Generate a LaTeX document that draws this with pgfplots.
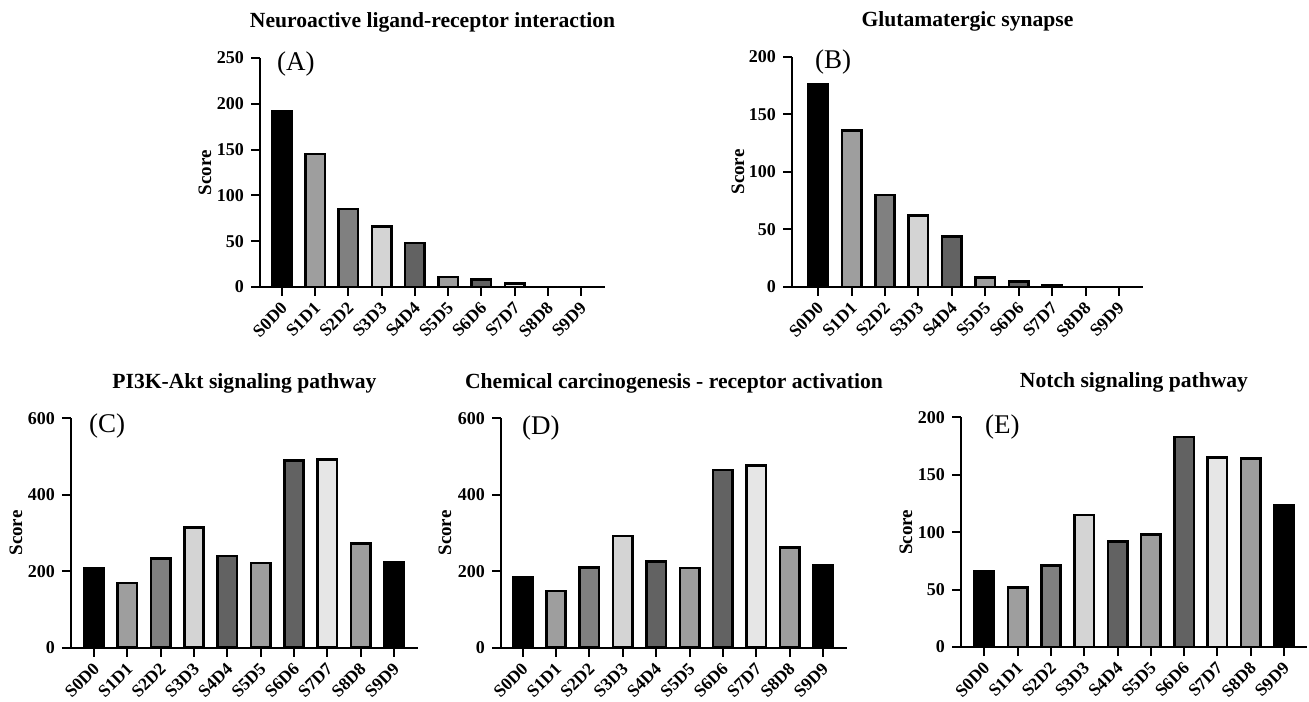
\documentclass[border=0pt]{standalone}
\usepackage{fontspec}
\setmainfont{Liberation Serif}
\usepackage{pgfplots}
\pgfplotsset{compat=1.18}
\definecolor{c0}{HTML}{000000}
\definecolor{c1}{HTML}{9E9E9E}
\definecolor{c2}{HTML}{808080}
\definecolor{c3}{HTML}{D4D4D4}
\definecolor{c4}{HTML}{626262}
\definecolor{c5}{HTML}{9E9E9E}
\definecolor{c6}{HTML}{626262}
\definecolor{c7}{HTML}{E6E6E6}
\definecolor{c8}{HTML}{9E9E9E}
\definecolor{c9}{HTML}{000000}
\pgfplotsset{
  panel/.style={
    scale only axis, anchor=south west,
    axis x line=bottom, axis y line=left,
    axis line style={-, line width=1pt, black},
    tick style={line width=1pt, black},
    tick align=outside, major tick length=4.5pt,
    enlargelimits=false, ymin=0,
    xtick={0,...,9},
    xticklabels={S0D0,S1D1,S2D2,S3D3,S4D4,S5D5,S6D6,S7D7,S8D8,S9D9},
    xticklabel style={xshift=-1pt, yshift=-1pt, rotate=45, anchor=north east, font=\fontsize{8.8}{8.8}\selectfont\bfseries, inner sep=1pt},
    yticklabel style={font=\fontsize{9}{9}\selectfont\bfseries},
    /pgf/number format/assume math mode=true,
    ylabel=Score,
    title style={font=\fontsize{10.8}{10.8}\selectfont\bfseries, at={(rel axis cs:0.5,1)}, anchor=base, yshift=9pt},
    clip=false,
  },
  ylabshift/.style={every axis y label/.style={at={([xshift=-#1]rel axis cs:0,0.5)}, rotate=90, anchor=center, font=\fontsize{9.5}{9.5}\selectfont\bfseries}},
}
\newcommand\B[2]{\addplot[ybar, bar shift=0pt, bar width=9.7pt, draw=black, line width=1.3pt, fill=c#1] coordinates {(#1,#2)};}
\newcommand\PL[3]{\node[anchor=west, font=\fontsize{13.5}{13.5}\selectfont] at ([xshift=#2,yshift=#3]rel axis cs:0,1) {#1};}
\begin{document}
\begin{tikzpicture}
\useasboundingbox (0pt,0pt) rectangle (654.5pt,350.5pt);
% (A)
\begin{axis}[panel, at={(130pt,207pt)}, width=172.5pt, height=114.5pt,
  xmin=-0.66, xmax=9.72, ymax=250, ytick={0,50,100,150,200,250},
  ylabshift=27.5pt, title={Neuroactive ligand-receptor interaction}]
\B0{192}\B1{145}\B2{85}\B3{66}\B4{48}\B5{11}\B6{8}\B7{4}\B8{0}\B9{0}
\PL{(A)}{5pt}{-3pt}
\end{axis}
% (B)
\begin{axis}[panel, at={(396pt,207pt)}, width=175.5pt, height=115pt,
  xmin=-0.78, xmax=9.72, ymax=200, ytick={0,50,100,150,200},
  ylabshift=27pt, title={Glutamatergic synapse}]
\B0{176}\B1{136}\B2{80}\B3{62}\B4{44}\B5{8}\B6{5}\B7{1.5}\B8{0}\B9{0}
\PL{(B)}{8pt}{-2.5pt}
\end{axis}
% (C)
\begin{axis}[panel, at={(35.5pt,26.65pt)}, width=173.5pt, height=114.7pt,
  xmin=-0.69, xmax=9.72, ymax=600, ytick={0,200,400,600},
  ylabshift=27.5pt, title={PI3K-Akt signaling pathway}]
\B0{208}\B1{169}\B2{234}\B3{314}\B4{240}\B5{222}\B6{489}\B7{493}\B8{272}\B9{224}
\PL{(C)}{5.5pt}{-4pt}
\end{axis}
% (D)
\begin{axis}[panel, at={(250.5pt,26.65pt)}, width=173pt, height=114.7pt,
  xmin=-0.65, xmax=9.72, ymax=600, ytick={0,200,400,600},
  ylabshift=28pt, title={Chemical carcinogenesis - receptor activation}]
\B0{183}\B1{148}\B2{210}\B3{292}\B4{226}\B5{208}\B6{465}\B7{476}\B8{262}\B9{216}
\PL{(D)}{7pt}{-5pt}
\end{axis}
% (E)
\begin{axis}[panel, at={(480.5pt,27pt)}, width=173pt, height=114.85pt,
  xmin=-0.70, xmax=9.69, ymax=200, ytick={0,50,100,150,200},
  ylabshift=27.5pt, title={Notch signaling pathway}]
\B0{66}\B1{52}\B2{71}\B3{115}\B4{92}\B5{98}\B6{183}\B7{165}\B8{164}\B9{123}
\PL{(E)}{8.5pt}{-4.7pt}
\end{axis}
\end{tikzpicture}
\end{document}
